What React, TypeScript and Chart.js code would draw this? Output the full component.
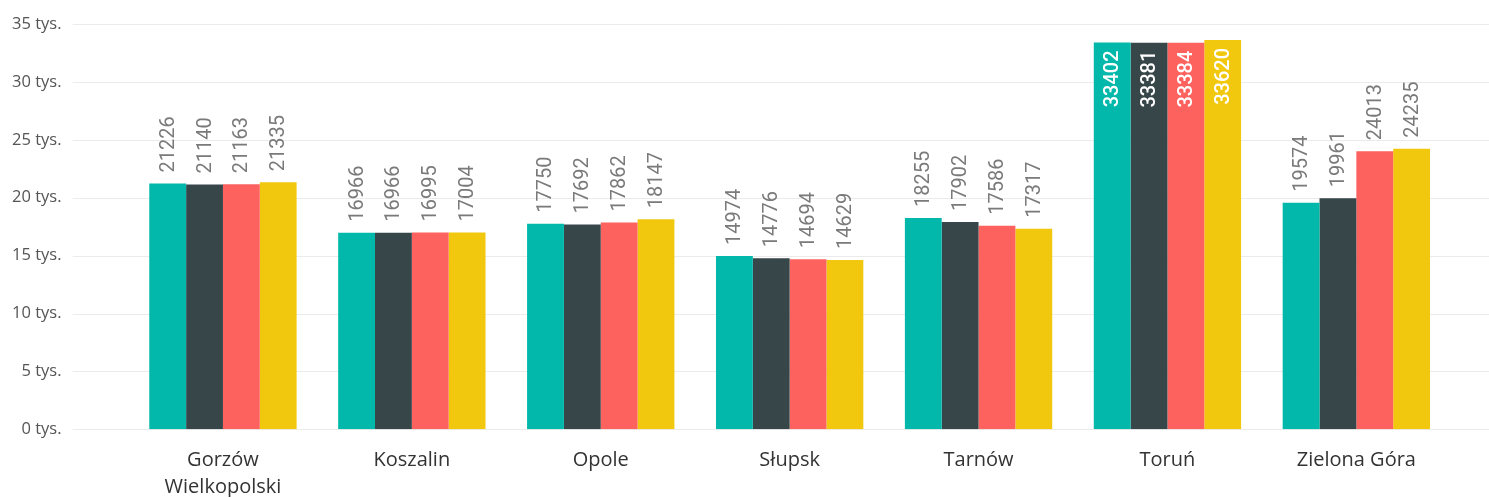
import React, { useEffect, useRef } from 'react';
import { Chart, registerables } from 'chart.js';

Chart.register(...registerables);

const categories: (string | string[])[] = [
  ['Gorzów', 'Wielkopolski'],
  'Koszalin',
  'Opole',
  'Słupsk',
  'Tarnów',
  'Toruń',
  'Zielona Góra',
];
const seriesNames = ['2016', '2017', '2018', '2019'];
const values2016 = [21226, 16966, 17750, 14974, 18255, 33402, 19574];
const values2017 = [21140, 16966, 17692, 14776, 17902, 33381, 19961];
const values2018 = [21163, 16995, 17862, 14694, 17586, 33384, 24013];
const values2019 = [21335, 17004, 18147, 14629, 17317, 33620, 24235];
const seriesColors = ['#01B8AA', '#374649', '#FD625E', '#F2C80F'];
const yMin = 0;
const yMax = 35000;
const yStep = 5000;
const tickSuffix = ' tys.';

const gridPlugin = {
  id: 'extendedGrid',
  beforeDatasetsDraw(chart: any) {
    const { ctx } = chart;
    const y = chart.scales.y;
    ctx.save();
    ctx.strokeStyle = '#ebebeb';
    ctx.lineWidth = 1;
    y.ticks.forEach((t: any) => {
      const py = Math.round(y.getPixelForValue(t.value)) + 0.5;
      ctx.beginPath();
      ctx.moveTo(72.7, py);
      ctx.lineTo(chart.width, py);
      ctx.stroke();
    });
    ctx.restore();
  },
};

const labelPlugin = {
  id: 'barValueLabels',
  afterDatasetsDraw(chart: any) {
    const { ctx, chartArea } = chart;
    ctx.save();
    ctx.textBaseline = 'middle';
    chart.data.datasets.forEach((ds: any, di: number) => {
      const meta = chart.getDatasetMeta(di);
      meta.data.forEach((bar: any, i: number) => {
        const text = String(ds.data[i]);
        ctx.font = '20px Roboto';
        const w = ctx.measureText(text).width;
        const gap = 11;
        ctx.save();
        if (bar.y - gap - w < chartArea.top + 10) {
          ctx.translate(bar.x, bar.y + 8);
          ctx.rotate(-Math.PI / 2);
          ctx.textAlign = 'right';
          ctx.fillStyle = '#ffffff';
          ctx.font = '500 20px Roboto';
        } else {
          ctx.translate(bar.x, bar.y - gap);
          ctx.rotate(-Math.PI / 2);
          ctx.textAlign = 'left';
          ctx.fillStyle = '#7a7a7a';
        }
        ctx.fillText(text, 0, 1);
        ctx.restore();
      });
    });
    ctx.restore();
  },
};

export default function App() {
  const ref = useRef<HTMLCanvasElement | null>(null);

  useEffect(() => {
    if (!ref.current) return;
    const all = [values2016, values2017, values2018, values2019];
    const chart = new Chart(ref.current, {
      type: 'bar',
      data: {
        labels: categories as any,
        datasets: all.map((d, i) => ({
          label: seriesNames[i],
          data: d,
          backgroundColor: seriesColors[i],
          borderWidth: 0,
          barPercentage: 1,
          categoryPercentage: 0.78,
        })),
      },
      options: {
        responsive: false,
        animation: false,
        layout: { padding: { top: 24, right: 38.2, left: 0, bottom: 0 } },
        plugins: {
          legend: { display: false },
          tooltip: { enabled: false },
        },
        scales: {
          x: {
            grid: { display: false },
            border: { display: false },
            ticks: {
              autoSkip: false,
              maxRotation: 0,
              minRotation: 0,
              padding: 9,
              color: '#333333',
              font: { family: 'Open Sans', size: 20, lineHeight: 1.38 },
            },
            afterFit(scale: any) {
              scale.height = 67.7;
            },
          },
          y: {
            min: yMin,
            max: yMax,
            grid: { display: false, drawTicks: true, tickLength: 57 },
            border: { display: false },
            ticks: {
              stepSize: yStep,
              padding: 10,
              color: '#555555',
              font: { family: 'Open Sans', size: 16.5 },
              callback: (v: any) => `${Number(v) / 1000}${tickSuffix}`,
            },
            afterFit(scale: any) {
              scale.width = 128.5;
            },
          },
        },
      },
      plugins: [gridPlugin, labelPlugin],
    });
    return () => chart.destroy();
  }, []);

  return (
    <div style={{ position: 'absolute', left: 0, top: 0, width: 1489, height: 497, background: '#fff' }}>
      <canvas ref={ref} width={1489} height={497} style={{ display: 'block' }} />
    </div>
  );
}
